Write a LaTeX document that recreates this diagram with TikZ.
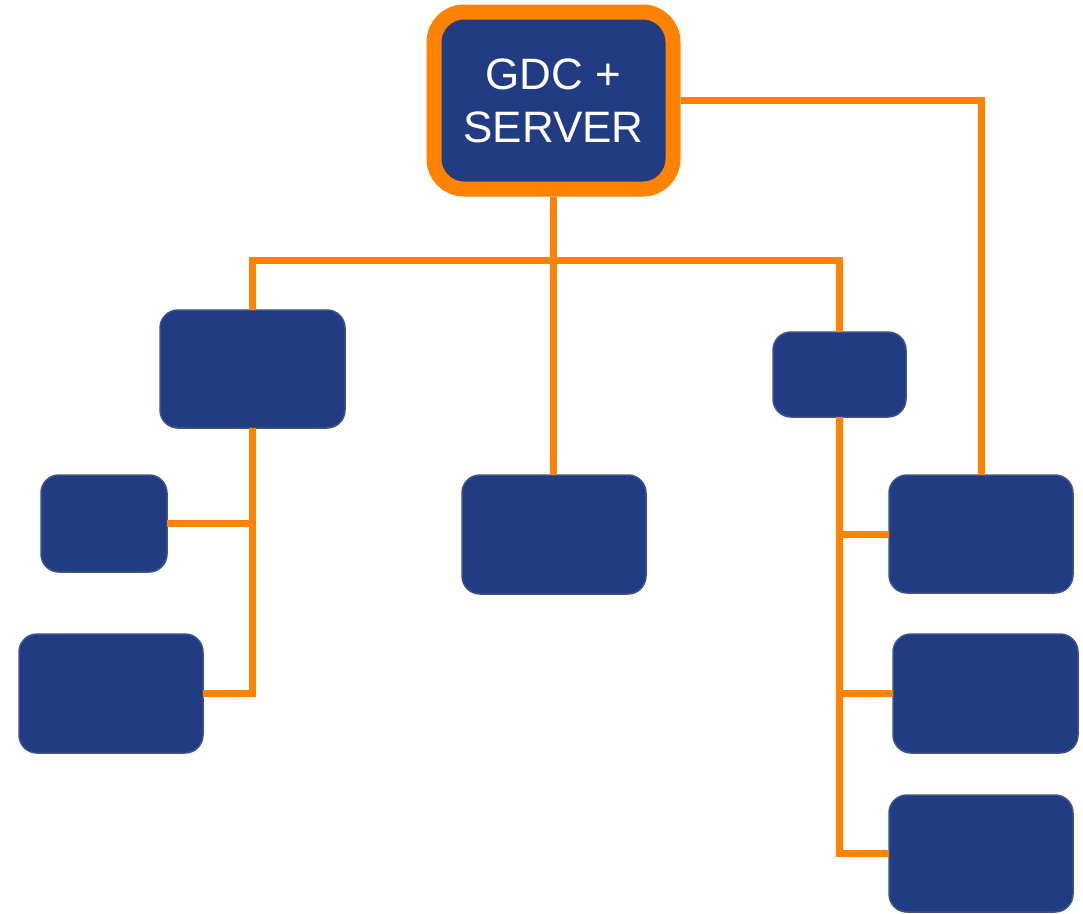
\documentclass[tikz,border=0pt]{standalone}
\usepackage{fontspec}
\setmainfont{Liberation Sans}
\definecolor{boxblue}{RGB}{33,60,130}
\definecolor{boxedge}{RGB}{60,82,140}
\definecolor{linkorange}{RGB}{255,130,0}
\begin{document}
\begin{tikzpicture}[x=1pt,y=-1pt,
  unit/.style={draw=boxedge,line width=1.5pt,fill=boxblue,rounded corners=18pt,
    inner sep=0pt,outer sep=0pt},
  hub/.style={draw=linkorange,line width=15pt,fill=boxblue,rounded corners=30pt,
    inner sep=0pt,text=white,align=center,font=\fontsize{44}{53}\selectfont},
  link/.style={draw=linkorange,line width=7pt}]
\useasboundingbox (0,0) rectangle (1083,913);

% upper level
\node[hub,minimum width=239pt,minimum height=177pt] (top) at (553.5,100.5) {GDC +\\SERVER};
\node[unit,minimum width=185pt,minimum height=118pt] (A) at (252.5,369) {};
\node[unit,minimum width=184pt,minimum height=119pt] (B) at (554,534.5) {};
\node[unit,minimum width=133pt,minimum height=85pt] (C) at (839.5,374.5) {};

% left branch
\node[unit,minimum width=126pt,minimum height=97pt] (D) at (104,523.5) {};
\node[unit,minimum width=184pt,minimum height=119pt] (E) at (111,693.5) {};

% right branch
\node[unit,minimum width=184pt,minimum height=118pt] (F) at (981,534) {};
\node[unit,minimum width=185pt,minimum height=119pt] (G) at (985.5,693.5) {};
\node[unit,minimum width=184pt,minimum height=117pt] (H) at (981,853.5) {};

% connectors
\draw[link] (top.south) -- (top.south |- B.north);
\draw[link] (A.north) -- ++(0,-50) -| (C.north);
\draw[link] (top.east) -| (F.north);
\draw[link] (A.south) |- (E.east);
\draw[link] (D.east) -- (D.east -| A.south);
\draw[link] (C.south) |- (H.west);
\draw[link] (F.west) -- (F.west -| C.south);
\draw[link] (G.west) -- (G.west -| C.south);
\end{tikzpicture}
\end{document}
